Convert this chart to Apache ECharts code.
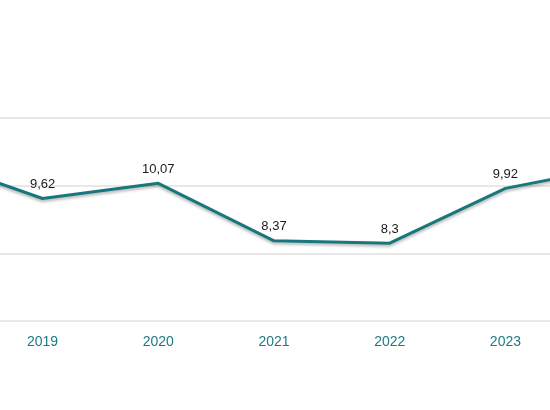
<!DOCTYPE html>
<html>
<head>
<meta charset="utf-8">
<script src="https://cdn.jsdelivr.net/npm/echarts@6/dist/echarts.min.js"></script>
<style>
html,body{margin:0;padding:0;width:550px;height:410px;overflow:hidden;background:#fff;position:relative;}
#c{position:absolute;left:-131px;top:0;width:810px;height:410px;}
</style>
</head>
<body>
<div id="c"></div>
<script>
var years = ['2018','2019','2020','2021','2022','2023','2024'];
var values = [10.82, 9.62, 10.07, 8.37, 8.3, 9.92, 10.59];
var yTicks = [6, 8, 10, 12];

var chart = echarts.init(document.getElementById('c'), null, {renderer:'canvas'});
chart.setOption({
  animation:false,
  grid:{left:0,right:0,top:118,bottom:89,containLabel:false},
  xAxis:{
    type:'category',
    data:years,
    boundaryGap:true,
    axisLine:{show:false},
    axisTick:{show:false},
    axisLabel:{color:'#1b7b82',fontSize:14,fontFamily:'Liberation Sans, Arial, sans-serif',margin:14}
  },
  yAxis:{
    type:'value',
    min:yTicks[0],
    max:yTicks[yTicks.length-1],
    interval:2,
    axisLabel:{show:false},
    axisLine:{show:false},
    axisTick:{show:false},
    splitLine:{lineStyle:{color:'#e0e0e0',width:1.5}}
  },
  series:[{
    type:'line',
    data:values,
    symbol:'circle',
    symbolSize:1,
    showSymbol:true,
    itemStyle:{color:'#17777c'},
    lineStyle:{color:'#17777c',width:3,shadowColor:'rgba(0,0,0,0.3)',shadowBlur:3,shadowOffsetY:2},
    label:{
      show:true,
      position:'top',
      distance:7,
      color:'#1a1a1a',
      fontSize:13,
      fontFamily:'Liberation Sans, Arial, sans-serif',
      formatter:function(p){return String(p.value).replace('.',',');}
    }
  }]
});
</script>
</body>
</html>
